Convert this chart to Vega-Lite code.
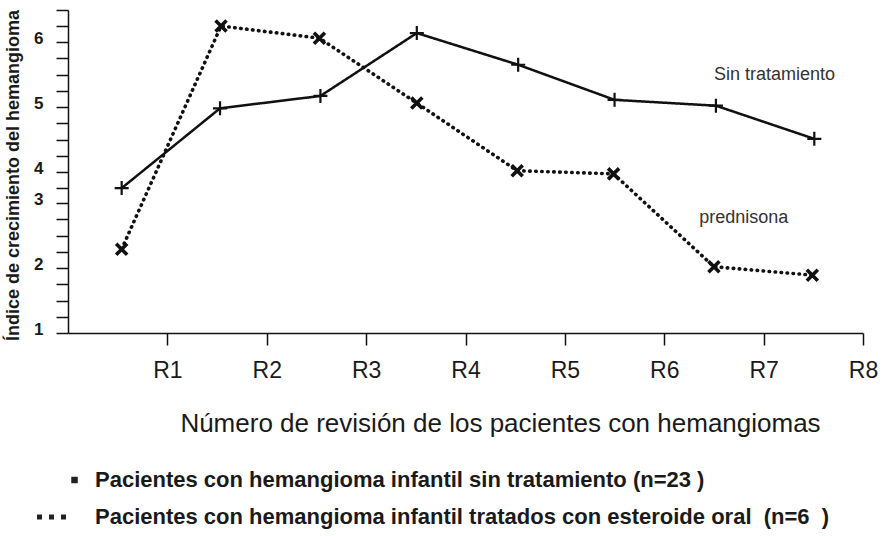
{
  "$schema": "https://vega.github.io/schema/vega-lite/v6.json",
  "width": 795,
  "height": 323,
  "autosize": {"type": "none"},
  "padding": {"left": 68, "top": 10, "right": 19, "bottom": 203},
  "background": "white",
  "config": {
    "view": {"stroke": null},
    "font": "Liberation Sans",
    "axis": {"grid": false, "domainColor": "#111", "tickColor": "#111", "labelColor": "#1a1a1a", "titleColor": "#1a1a1a", "labelFont": "Liberation Sans", "titleFont": "Liberation Sans"}
  },
  "datasets": {
    "series": [
      {"serie": "Sin tratamiento", "grupo": "Pacientes con hemangioma infantil sin tratamiento (n=23 )", "revision": "R1", "pos": 0.54, "indice": 3.48},
      {"serie": "Sin tratamiento", "grupo": "Pacientes con hemangioma infantil sin tratamiento (n=23 )", "revision": "R2", "pos": 1.53, "indice": 4.98},
      {"serie": "Sin tratamiento", "grupo": "Pacientes con hemangioma infantil sin tratamiento (n=23 )", "revision": "R3", "pos": 2.54, "indice": 5.17},
      {"serie": "Sin tratamiento", "grupo": "Pacientes con hemangioma infantil sin tratamiento (n=23 )", "revision": "R4", "pos": 3.51, "indice": 6.14},
      {"serie": "Sin tratamiento", "grupo": "Pacientes con hemangioma infantil sin tratamiento (n=23 )", "revision": "R5", "pos": 4.53, "indice": 5.65},
      {"serie": "Sin tratamiento", "grupo": "Pacientes con hemangioma infantil sin tratamiento (n=23 )", "revision": "R6", "pos": 5.50, "indice": 5.11},
      {"serie": "Sin tratamiento", "grupo": "Pacientes con hemangioma infantil sin tratamiento (n=23 )", "revision": "R7", "pos": 6.52, "indice": 5.02},
      {"serie": "Sin tratamiento", "grupo": "Pacientes con hemangioma infantil sin tratamiento (n=23 )", "revision": "R8", "pos": 7.51, "indice": 4.51},
      {"serie": "Prednisona", "grupo": "Pacientes con hemangioma infantil tratados con esteroide oral\u00a0 (n=6\u00a0 )", "revision": "R1", "pos": 0.54, "indice": 2.29},
      {"serie": "Prednisona", "grupo": "Pacientes con hemangioma infantil tratados con esteroide oral\u00a0 (n=6\u00a0 )", "revision": "R2", "pos": 1.54, "indice": 6.25},
      {"serie": "Prednisona", "grupo": "Pacientes con hemangioma infantil tratados con esteroide oral\u00a0 (n=6\u00a0 )", "revision": "R3", "pos": 2.53, "indice": 6.06},
      {"serie": "Prednisona", "grupo": "Pacientes con hemangioma infantil tratados con esteroide oral\u00a0 (n=6\u00a0 )", "revision": "R4", "pos": 3.51, "indice": 5.06},
      {"serie": "Prednisona", "grupo": "Pacientes con hemangioma infantil tratados con esteroide oral\u00a0 (n=6\u00a0 )", "revision": "R5", "pos": 4.52, "indice": 4.02},
      {"serie": "Prednisona", "grupo": "Pacientes con hemangioma infantil tratados con esteroide oral\u00a0 (n=6\u00a0 )", "revision": "R6", "pos": 5.49, "indice": 3.94},
      {"serie": "Prednisona", "grupo": "Pacientes con hemangioma infantil tratados con esteroide oral\u00a0 (n=6\u00a0 )", "revision": "R7", "pos": 6.50, "indice": 2.02},
      {"serie": "Prednisona", "grupo": "Pacientes con hemangioma infantil tratados con esteroide oral\u00a0 (n=6\u00a0 )", "revision": "R8", "pos": 7.49, "indice": 1.89}
    ],
    "notes": [
      {"label": "Sin tratamiento", "pos": 7.11, "indice": 5.49},
      {"label": "prednisona", "pos": 6.80, "indice": 2.77}
    ]
  },
  "data": {"name": "series"},
  "encoding": {
    "x": {
      "field": "pos", "type": "quantitative",
      "scale": {"domain": [0, 8], "nice": false, "zero": false},
      "axis": {
        "values": [1, 2, 3, 4, 5, 6, 7, 8],
        "labelExpr": "'R' + datum.value",
        "labelFlush": false, "labelOverlap": false,
        "tickSize": 12, "tickWidth": 1.5, "domainWidth": 1.5,
        "labelFontSize": 23, "labelBaseline": "alphabetic", "labelPadding": 32,
        "title": "Número de revisión de los pacientes con hemangiomas",
        "titleFontSize": 26, "titleFontWeight": "normal",
        "titleX": 432, "titleY": 98, "titleAlign": "center", "titleBaseline": "alphabetic"
      }
    },
    "y": {
      "field": "indice", "type": "quantitative",
      "scale": {"domain": [1, 2, 3, 4, 5, 6, 6.5], "range": [323, 258, 193, 162, 97, 32, 0], "nice": false, "zero": false},
      "axis": {
        "values": [1, 1.25, 1.5, 1.75, 2, 2.25, 2.5, 2.75, 3, 3.5, 4, 4.25, 4.5, 4.75, 5, 5.25, 5.5, 5.75, 6, 6.25, 6.5],
        "labelExpr": "datum.value % 1 == 0 ? format(datum.value, 'd') : ''",
        "labelOverlap": false,
        "tickSize": 12, "tickWidth": 1.5, "domainWidth": 1.5,
        "labelFontSize": 17, "labelFontWeight": "bold", "labelPadding": 13,
        "labelBaseline": "middle", "labelOffset": -4,
        "title": "Índice de crecimiento del hemangioma",
        "titleFontSize": 18, "titleFontWeight": "bold",
        "titleX": -55, "titleY": 165, "titleAngle": 270, "titleAlign": "center", "titleBaseline": "middle"
      }
    }
  },
  "layer": [
    {
      "mark": {"type": "line", "color": "#111", "strokeCap": "round"},
      "encoding": {
        "detail": {"field": "serie"},
        "strokeDash": {"field": "serie", "type": "nominal", "scale": {"domain": ["Sin tratamiento", "Prednisona"], "range": [[1, 0], [0.5, 5.5]]}, "legend": null},
        "strokeWidth": {"field": "serie", "type": "nominal", "scale": {"domain": ["Sin tratamiento", "Prednisona"], "range": [2.5, 3.6]}, "legend": null}
      }
    },
    {
      "transform": [{"filter": "datum.serie == 'Sin tratamiento'"}],
      "mark": {"type": "point", "shape": "M-1,0H1M0,-1V1", "size": 196, "strokeWidth": 2.2, "filled": false, "color": "#111", "opacity": 1}
    },
    {
      "transform": [{"filter": "datum.serie == 'Prednisona'"}],
      "mark": {"type": "point", "shape": "M-1,-1L1,1M1,-1L-1,1", "size": 121, "strokeWidth": 3.6, "filled": false, "color": "#111", "opacity": 1}
    },
    {
      "mark": {"type": "point", "filled": true, "color": "#222", "opacity": 0},
      "encoding": {
        "shape": {
          "field": "grupo", "type": "nominal",
          "scale": {
            "domain": ["Pacientes con hemangioma infantil sin tratamiento (n=23 )", "Pacientes con hemangioma infantil tratados con esteroide oral\u00a0 (n=6\u00a0 )"],
            "range": ["M-0.65,-0.65H0.65V0.65H-0.65Z", "M-7.5,-0.5h1v1h-1z M-5.1,-0.5h1v1h-1z M-2.7,-0.5h1v1h-1z"]
          },
          "legend": {
            "orient": "none", "legendX": -4.5, "legendY": 459, "title": null,
            "symbolSize": 100, "symbolOpacity": 1, "symbolStrokeWidth": 0,
            "labelFont": "Liberation Sans", "labelFontSize": 22, "labelFontWeight": "bold", "labelColor": "#1a1a1a",
            "labelOffset": 9.5, "rowPadding": 15, "padding": 0, "labelLimit": 1000
          }
        }
      }
    },
    {
      "data": {"name": "notes"},
      "mark": {"type": "text", "font": "Liberation Sans", "fontSize": 18, "color": "#333", "align": "center", "baseline": "middle"},
      "encoding": {"text": {"field": "label"}}
    }
  ]
}
